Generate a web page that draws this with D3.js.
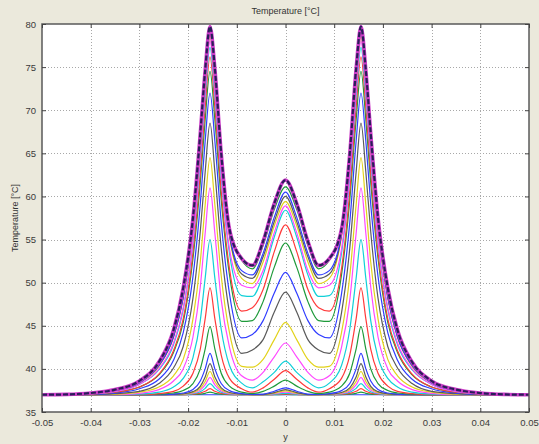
<!DOCTYPE html>
<html><head><meta charset="utf-8">
<script src="https://cdn.jsdelivr.net/npm/d3@7"></script>
<style>
html,body{margin:0;padding:0;background:#ebe9dc;}
svg{display:block;}
</style></head>
<body><svg id="c" width="539" height="444"></svg>
<script>
// ---- data ----
const xVals = [-0.05,-0.045,-0.04,-0.035,-0.03,-0.026,-0.023,-0.021,-0.019,-0.0175,-0.0165,-0.0155,-0.0145,-0.0132,-0.0115,-0.009,-0.0068,-0.0046,-0.0023,0,0.0023,0.0046,0.0068,0.009,0.0115,0.0132,0.0145,0.0155,0.0165,0.0175,0.019,0.021,0.023,0.026,0.03,0.035,0.04,0.045,0.05];
const xTicks = [-0.05,-0.04,-0.03,-0.02,-0.01,0,0.01,0.02,0.03,0.04,0.05];
const xTickLabels = ["-0.05","-0.04","-0.03","-0.02","-0.01","0","0.01","0.02","0.03","0.04","0.05"];
const yTicks = [35,40,45,50,55,60,65,70,75,80];
const t01 = [37,37,37,37,37,37,37,37,37,37,37,37,37,37,37,37,37,37,37,37,37,37,37,37,37,37,37,37,37,37,37,37,37,37,37,37,37,37,37];
const t02 = [37.0,37.0,37.0,37.0,37.0,37.0,37.0,37.01,37.03,37.08,37.17,37.3,37.17,37.07,37.02,37.0,37.0,37.0,37.01,37.03,37.01,37.0,37.0,37.0,37.02,37.07,37.17,37.3,37.17,37.08,37.03,37.01,37.0,37.0,37.0,37.0,37.0,37.0,37.0];
const t03 = [37.0,37.0,37.0,37.0,37.0,37.0,37.0,37.02,37.07,37.19,37.4,37.7,37.4,37.15,37.05,37.01,37.0,37.0,37.03,37.08,37.03,37.0,37.0,37.01,37.05,37.15,37.4,37.7,37.4,37.19,37.07,37.02,37.0,37.0,37.0,37.0,37.0,37.0,37.0];
const t04 = [37.0,37.0,37.0,37.0,37.0,37.0,37.01,37.04,37.13,37.35,37.74,38.3,37.74,37.29,37.09,37.02,37.0,37.0,37.06,37.15,37.06,37.0,37.0,37.02,37.09,37.29,37.74,38.3,37.74,37.35,37.13,37.04,37.01,37.0,37.0,37.0,37.0,37.0,37.0];
const t05 = [37.0,37.0,37.0,37.0,37.0,37.0,37.02,37.06,37.2,37.54,38.14,39.0,38.14,37.44,37.15,37.04,37.01,37.0,37.13,37.3,37.13,37.0,37.01,37.04,37.15,37.44,38.14,39.0,38.14,37.54,37.2,37.06,37.02,37.0,37.0,37.0,37.0,37.0,37.0];
const t06 = [37.0,37.0,37.0,37.0,37.0,37.0,37.03,37.08,37.27,37.73,38.54,39.7,38.54,37.6,37.2,37.05,37.01,37.01,37.19,37.45,37.19,37.01,37.01,37.05,37.2,37.6,38.54,39.7,38.54,37.73,37.27,37.08,37.03,37.0,37.0,37.0,37.0,37.0,37.0];
const t07 = [37.0,37.0,37.0,37.0,37.0,37.0,37.04,37.11,37.36,37.97,39.05,40.6,39.05,37.8,37.26,37.06,37.02,37.02,37.25,37.6,37.25,37.02,37.02,37.06,37.26,37.8,39.05,40.6,39.05,37.97,37.36,37.11,37.04,37.0,37.0,37.0,37.0,37.0,37.0];
const t08 = [37.0,37.0,37.0,37.0,37.0,37.02,37.08,37.2,37.6,38.6,40.0,41.8,40.0,38.3,37.48,37.13,37.05,37.07,37.41,37.8,37.41,37.07,37.05,37.13,37.48,38.3,40.0,41.8,40.0,38.6,37.6,37.2,37.08,37.02,37.0,37.0,37.0,37.0,37.0];
const t09 = [37.0,37.0,37.0,37.0,37.0,37.06,37.2,37.5,38.3,40.0,42.3,44.9,42.3,39.5,38.0,37.3,37.14,37.4,38.0,38.7,38.0,37.4,37.14,37.3,38.0,39.5,42.3,44.9,42.3,40.0,38.3,37.5,37.2,37.06,37.0,37.0,37.0,37.0,37.0];
const t10 = [37.0,37.0,37.0,37.0,37.02,37.14,37.4,38.0,39.5,42.3,45.8,49.4,45.8,41.6,38.9,37.7,37.3,37.8,38.8,39.8,38.8,37.8,37.3,37.7,38.9,41.6,45.8,49.4,45.8,42.3,39.5,38.0,37.4,37.14,37.02,37.0,37.0,37.0,37.0];
const t11 = [37.0,37.0,37.0,37.0,37.07,37.3,37.9,38.9,41.3,45.6,50.5,55.0,50.5,44.6,40.4,38.35,37.8,38.5,39.6,40.9,39.6,38.5,37.8,38.35,40.4,44.6,50.5,55.0,50.5,45.6,41.3,38.9,37.9,37.3,37.07,37.0,37.0,37.0,37.0];
const t12 = [37.0,37.0,37.0,37.01,37.17,37.6,38.6,40.0,43.7,49.5,55.7,61.0,55.7,48.0,42.5,39.2,38.7,39.6,41.4,43.0,41.4,39.6,38.7,39.2,42.5,48.0,55.7,61.0,55.7,49.5,43.7,40.0,38.6,37.6,37.17,37.01,37.0,37.0,37.0];
const t13 = [37.0,37.0,37.0,37.05,37.3,37.9,39.2,41.1,45.8,52.4,59.0,64.5,59.0,50.8,44.2,40.3,40.2,41.1,43.4,45.4,43.4,41.1,40.2,40.3,44.2,50.8,59.0,64.5,59.0,52.4,45.8,41.1,39.2,37.9,37.3,37.05,37.0,37.0,37.0];
const t14 = [37.0,37.0,37.0,37.13,37.4,38.3,40.1,42.6,48.2,55.9,62.8,68.5,62.8,54.0,46.5,41.8,42.2,43.4,46.6,48.9,46.6,43.4,42.2,41.8,46.5,54.0,62.8,68.5,62.8,55.9,48.2,42.6,40.1,38.3,37.4,37.13,37.0,37.0,37.0];
const t15 = [37.0,37.0,37.04,37.2,37.7,38.8,41.0,44.2,50.7,59.1,66.4,72.0,66.4,57.0,48.7,43.6,44.0,45.6,48.8,51.2,48.8,45.6,44.0,43.6,48.7,57.0,66.4,72.0,66.4,59.1,50.7,44.2,41.0,38.8,37.7,37.2,37.04,37.0,37.0];
const t16 = [37.0,37.0,37.08,37.3,37.9,39.3,41.9,45.4,52.8,61.6,68.9,74.5,68.9,59.6,50.9,45.5,45.6,47.8,51.8,54.6,51.8,47.8,45.6,45.5,50.9,59.6,68.9,74.5,68.9,61.6,52.8,45.4,41.9,39.3,37.9,37.3,37.08,37.0,37.0];
const t17 = [37.0,37.0,37.08,37.3,37.9,39.4,42.1,45.8,53.5,62.7,70.3,76.2,70.3,60.6,51.6,46.7,47.1,49.2,53.6,56.7,53.6,49.2,47.1,46.7,51.6,60.6,70.3,76.2,70.3,62.7,53.5,45.8,42.1,39.4,37.9,37.3,37.08,37.0,37.0];
const t18 = [37.0,37.02,37.12,37.4,38.2,39.9,42.8,46.9,54.7,64.2,71.7,77.3,71.7,62.2,53.4,48.5,48.4,50.9,55.3,58.4,55.3,50.9,48.4,48.5,53.4,62.2,71.7,77.3,71.7,64.2,54.7,46.9,42.8,39.9,38.2,37.4,37.12,37.02,37.0];
const t19 = [37.0,37.02,37.12,37.4,38.2,40.0,43.0,47.1,55.0,64.7,72.3,78.0,72.3,62.7,53.9,49.7,49.4,51.4,55.8,58.9,55.8,51.4,49.4,49.7,53.9,62.7,72.3,78.0,72.3,64.7,55.0,47.1,43.0,40.0,38.2,37.4,37.12,37.02,37.0];
const t20 = [37.0,37.04,37.17,37.5,38.4,40.3,43.7,48.2,56.3,65.7,73.2,78.6,73.3,64.1,55.4,50.5,49.9,52.4,56.6,59.4,56.6,52.4,49.9,50.5,55.4,64.1,73.3,78.6,73.2,65.7,56.3,48.2,43.7,40.3,38.4,37.5,37.17,37.04,37.0];
const t21 = [37.0,37.04,37.17,37.5,38.4,40.4,43.7,48.3,56.5,66.0,73.5,79.0,73.7,64.3,55.5,51.0,50.5,53.0,57.1,60.0,57.1,53.0,50.5,51.0,55.5,64.3,73.7,79.0,73.5,66.0,56.5,48.3,43.7,40.4,38.4,37.5,37.17,37.04,37.0];
const t22 = [37.0,37.04,37.17,37.5,38.4,40.4,43.8,48.4,56.7,66.2,73.8,79.3,73.9,64.5,55.7,51.4,50.9,53.4,57.6,60.5,57.6,53.4,50.9,51.4,55.7,64.5,73.9,79.3,73.8,66.2,56.7,48.4,43.8,40.4,38.4,37.5,37.17,37.04,37.0];
const t23 = [37.0,37.04,37.2,37.6,38.6,40.8,44.4,49.3,57.4,67.2,74.4,79.5,74.6,64.8,56.0,52.6,51.6,54.3,58.5,61.1,58.5,54.3,51.6,52.6,56.0,64.8,74.6,79.5,74.4,67.2,57.4,49.3,44.4,40.8,38.6,37.6,37.2,37.04,37.0];
const t24 = [37.0,37.04,37.2,37.6,38.6,40.8,44.5,49.4,57.5,67.3,74.6,79.7,74.8,65.0,56.2,52.8,52.0,54.8,59.2,61.9,59.2,54.8,52.0,52.8,56.2,65.0,74.8,79.7,74.6,67.3,57.5,49.4,44.5,40.8,38.6,37.6,37.2,37.04,37.0];
const profiles = [t01,t02,t03,t04,t05,t06,t07,t08,t09,t10,t11,t12,t13,t14,t15,t16,t17,t18,t19,t20,t21,t22,t23,t24];

// ---- style ----
const palette = ["#2f3cff","#1f9a3a","#ff3a3a","#10d0d8","#ff48ff","#e2d21a","#5a5a5a"];
const W = 539, H = 444;
const M = {left:42, right:529, top:24, bottom:412};

const svg = d3.select("#c");
svg.append("rect").attr("width",W).attr("height",H).attr("fill","#ebe9dc");

const x = d3.scaleLinear().domain([-0.05,0.05]).range([M.left,M.right]);
const y = d3.scaleLinear().domain([35,80]).range([M.bottom,M.top]);

svg.append("rect").attr("x",M.left).attr("y",M.top)
  .attr("width",M.right-M.left).attr("height",M.bottom-M.top).attr("fill","#ffffff");

// grid
const grid = svg.append("g").attr("stroke","#a8a8a8").attr("stroke-width",1).attr("stroke-dasharray","1,2");
grid.selectAll("line.gx").data(xTicks.slice(1,-1)).join("line")
  .attr("x1",d=>Math.round(x(d))+0.5).attr("x2",d=>Math.round(x(d))+0.5)
  .attr("y1",M.top).attr("y2",M.bottom);
grid.selectAll("line.gy").data(yTicks.slice(1,-1)).join("line")
  .attr("y1",d=>Math.round(y(d))+0.5).attr("y2",d=>Math.round(y(d))+0.5)
  .attr("x1",M.left).attr("x2",M.right);

svg.append("clipPath").attr("id","clip").append("rect")
  .attr("x",M.left).attr("y",M.top).attr("width",M.right-M.left).attr("height",M.bottom-M.top);

const line = d3.line().x((d,i)=>x(xVals[i])).y(d=>y(d)).curve(d3.curveMonotoneX);
const gl = svg.append("g").attr("clip-path","url(#clip)").attr("fill","none");
const last = profiles.length-1;
profiles.forEach((p,i)=>{
  if(i===last) return;
  gl.append("path").attr("d",line(p)).attr("stroke",palette[i%7]).attr("stroke-width",1.2);
});
gl.append("path").attr("d",line(profiles[last])).attr("stroke","#cc3cc8").attr("stroke-width",3.6);
gl.append("path").attr("d",line(profiles[last])).attr("stroke","#2a1d5a").attr("stroke-width",2.2).attr("stroke-dasharray","5,2");

// frame
svg.append("rect").attr("x",M.left).attr("y",M.top)
  .attr("width",M.right-M.left).attr("height",M.bottom-M.top)
  .attr("fill","none").attr("stroke","#5a5a5a").attr("stroke-width",1.5);

// axes
const fontFam = "'Liberation Sans', Arial, sans-serif";
const xAx = svg.append("g").attr("transform",`translate(0,${M.bottom})`)
  .call(d3.axisBottom(x).tickValues(xTicks).tickFormat((d,i)=>xTickLabels[i]).tickSize(-4).tickPadding(7));
const yAx = svg.append("g").attr("transform",`translate(${M.left},0)`)
  .call(d3.axisLeft(y).tickValues(yTicks).tickFormat(d=>String(d)).tickSize(-4).tickPadding(6));
const xTop = svg.append("g").attr("transform",`translate(0,${M.top})`)
  .call(d3.axisTop(x).tickValues(xTicks).tickFormat("").tickSize(-4));
const yRight = svg.append("g").attr("transform",`translate(${M.right},0)`)
  .call(d3.axisRight(y).tickValues(yTicks).tickFormat("").tickSize(-4));
[xAx,yAx,xTop,yRight].forEach(g=>{
  g.select(".domain").remove();
  g.selectAll(".tick line").attr("stroke","#444");
  g.selectAll("text").attr("font-family",fontFam).attr("font-size",9.5).attr("fill","#3a3a3a");
});

svg.append("text").attr("x",(M.left+M.right)/2).attr("y",14).attr("text-anchor","middle")
  .attr("font-family",fontFam).attr("font-size",9).attr("fill","#333").text("Temperature [°C]");
svg.append("text").attr("x",(M.left+M.right)/2).attr("y",440).attr("text-anchor","middle")
  .attr("font-family",fontFam).attr("font-size",9).attr("fill","#333").text("y");
svg.append("text").attr("transform",`translate(18,${(M.top+M.bottom)/2}) rotate(-90)`).attr("text-anchor","middle")
  .attr("font-family",fontFam).attr("font-size",9).attr("fill","#333").text("Temperature [°C]");
</script></body></html>
